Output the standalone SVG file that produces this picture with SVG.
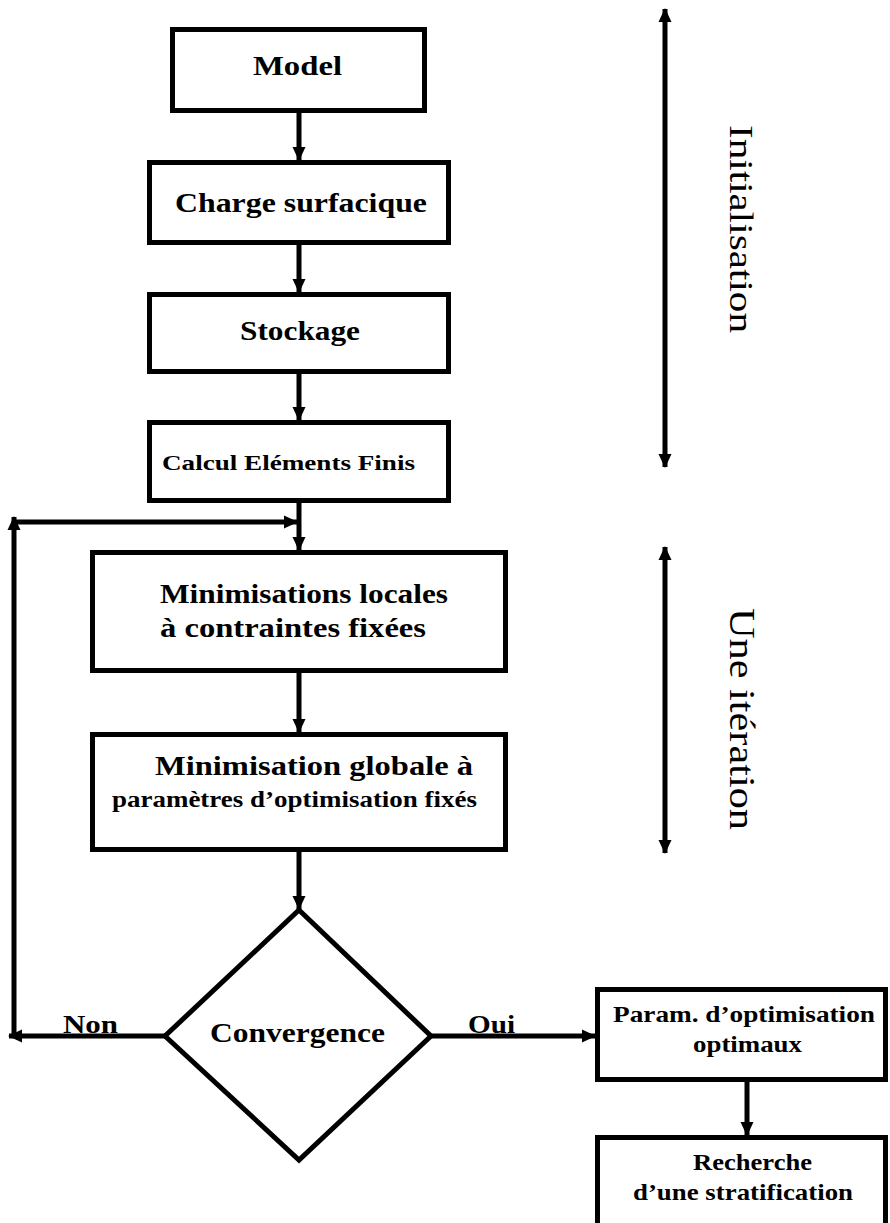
<svg xmlns="http://www.w3.org/2000/svg" width="890" height="1223" viewBox="0 0 890 1223">
<style>
.box{fill:#fff;stroke:#000;stroke-width:5}
.c{fill:none;stroke:#000;stroke-width:5}
.t{font-family:"Liberation Serif","Times New Roman",serif;font-weight:bold;fill:#000}
.r{font-family:"Liberation Serif","Times New Roman",serif;font-weight:normal;fill:#000}
</style>
<defs>
<marker id="ah" markerUnits="userSpaceOnUse" markerWidth="14" markerHeight="14" viewBox="0 0 14 14" refX="13" refY="7" orient="auto-start-reverse">
<path d="M0,0.5 L14,7 L0,13.5 Z" fill="#000"/>
</marker>
</defs>
<rect width="890" height="1223" fill="#fff"/>
<g id="connectors">
<line class="c" x1="299" y1="113" x2="299" y2="160" marker-end="url(#ah)"/>
<line class="c" x1="299" y1="245" x2="299" y2="292" marker-end="url(#ah)"/>
<line class="c" x1="299" y1="374" x2="299" y2="420" marker-end="url(#ah)"/>
<line class="c" x1="299" y1="503" x2="299" y2="550" marker-end="url(#ah)"/>
<line class="c" x1="299" y1="673" x2="299" y2="732" marker-end="url(#ah)"/>
<line class="c" x1="299" y1="852" x2="299" y2="909" marker-end="url(#ah)"/>
<line class="c" x1="431" y1="1036" x2="595" y2="1036" marker-end="url(#ah)"/>
<line class="c" x1="747" y1="1082" x2="747" y2="1135" marker-end="url(#ah)"/>
<line class="c" x1="165" y1="1036" x2="9" y2="1036" marker-end="url(#ah)"/>
<line class="c" x1="14" y1="1038" x2="14" y2="517" marker-end="url(#ah)"/>
<line class="c" x1="12" y1="522" x2="297" y2="522" marker-end="url(#ah)"/>
<line class="c" x1="665" y1="9" x2="665" y2="467" marker-start="url(#ah)" marker-end="url(#ah)"/>
<line class="c" x1="665" y1="547" x2="665" y2="853" marker-start="url(#ah)" marker-end="url(#ah)"/>
</g>
<g id="model">
<rect class="box" x="172.5" y="29.5" width="252" height="81"/>
<text class="t" x="253" y="75" font-size="27" textLength="89" lengthAdjust="spacingAndGlyphs">Model</text>
</g>
<g id="charge">
<rect class="box" x="149.5" y="162.5" width="299" height="80"/>
<text class="t" x="175" y="212" font-size="27" textLength="252" lengthAdjust="spacingAndGlyphs">Charge surfacique</text>
</g>
<g id="stockage">
<rect class="box" x="149.5" y="294.5" width="299" height="77"/>
<text class="t" x="240" y="340" font-size="27" textLength="120" lengthAdjust="spacingAndGlyphs">Stockage</text>
</g>
<g id="calcul">
<rect class="box" x="149.5" y="422.5" width="299" height="78"/>
<text class="t" x="162" y="470" font-size="22" textLength="253" lengthAdjust="spacingAndGlyphs">Calcul Eléments Finis</text>
</g>
<g id="minloc">
<rect class="box" x="92.5" y="552.5" width="413" height="118"/>
<text class="t" x="160" y="603" font-size="27" textLength="288" lengthAdjust="spacingAndGlyphs">Minimisations locales</text>
<text class="t" x="160" y="637" font-size="27" textLength="266" lengthAdjust="spacingAndGlyphs">à contraintes fixées</text>
</g>
<g id="minglob">
<rect class="box" x="92.5" y="734.5" width="413" height="115"/>
<text class="t" x="155" y="775" font-size="27" textLength="318" lengthAdjust="spacingAndGlyphs">Minimisation globale à</text>
<text class="t" x="112" y="807" font-size="23" textLength="365" lengthAdjust="spacingAndGlyphs">paramètres d’optimisation fixés</text>
</g>
<g id="convergence">
<polygon class="box" points="299,910 431,1036 299,1160 165,1036"/>
<text class="t" x="210" y="1042" font-size="27" textLength="175" lengthAdjust="spacingAndGlyphs">Convergence</text>
</g>
<g id="labels">
<text class="t" x="63" y="1033" font-size="25" textLength="55" lengthAdjust="spacingAndGlyphs">Non</text>
<text class="t" x="468" y="1033" font-size="25" textLength="47" lengthAdjust="spacingAndGlyphs">Oui</text>
</g>
<g id="param">
<rect class="box" x="597.5" y="989.5" width="288" height="90"/>
<text class="t" x="613" y="1022" font-size="23" textLength="262" lengthAdjust="spacingAndGlyphs">Param. d’optimisation</text>
<text class="t" x="693" y="1052" font-size="23" textLength="109" lengthAdjust="spacingAndGlyphs">optimaux</text>
</g>
<g id="recherche">
<rect class="box" x="597.5" y="1137.5" width="288" height="100"/>
<text class="t" x="693" y="1170" font-size="23" textLength="119" lengthAdjust="spacingAndGlyphs">Recherche</text>
<text class="t" x="633" y="1200" font-size="23" textLength="220" lengthAdjust="spacingAndGlyphs">d’une stratification</text>
</g>
<g id="initialisation">
<text class="r" transform="translate(730,125) rotate(90)" font-size="34" textLength="208" lengthAdjust="spacingAndGlyphs">Initialisation</text>
</g>
<g id="iteration">
<text class="r" transform="translate(730,608) rotate(90)" font-size="35" textLength="222" lengthAdjust="spacingAndGlyphs">Une itération</text>
</g>
</svg>
